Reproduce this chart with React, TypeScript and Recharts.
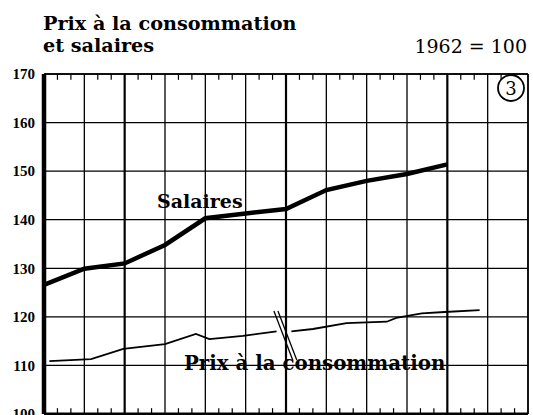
import { LineChart, Line, XAxis, YAxis, CartesianGrid, ReferenceLine } from "recharts"

// months since start of the chart (one grid cell = one quarter)
const quarterTicks = [0, 3, 6, 9, 12, 15, 18, 21, 24, 27, 30, 33, 36]
const yearTicks = [6, 18, 30]
const monthTicks = [1, 2, 4, 5, 7, 8, 10, 11, 13, 14, 16, 17, 19, 20, 22, 23, 25, 26, 28, 29, 31, 32, 34, 35]
const yTicks = [100, 110, 120, 130, 140, 150, 160, 170]

const salMonths = [0, 3, 6, 9, 12, 15, 18, 21, 24, 27, 30]
const salaires = [126.6, 129.9, 131.0, 134.8, 140.3, 141.3, 142.2, 146.1, 148.0, 149.4, 151.4]

const prixMonths = [0.4, 3.5, 5.9, 9, 11.3, 12.3, 14.8, 17.3, 17.8, 18.4, 20, 22.5, 25.5, 26.2, 28.1, 29.8, 32.4]
const prix = [110.9, 111.3, 113.4, 114.4, 116.5, 115.4, 116.1, 117.0, null, 117.0, 117.5, 118.7, 119.0, 119.8, 120.7, 121.0, 121.4]

const salData = salMonths.map((m, i) => ({ m, v: salaires[i] }))
const prixData = prixMonths.map((m, i) => ({ m, v: prix[i] }))

const serif = "'DejaVu Serif', serif"

export default function App() {
  return (
    <div style={{ position: "absolute", left: 0, top: 0, width: 533, height: 415, overflow: "hidden", background: "#fff" }}>
      <LineChart width={533} height={440} margin={{ top: 74, right: 5, bottom: 26, left: 0 }}>
        <CartesianGrid vertical={false} stroke="#000" strokeWidth={1.3} />
        <XAxis type="number" dataKey="m" domain={[0, 36]} ticks={quarterTicks} hide allowDuplicatedCategory={false} />
        <YAxis
          type="number"
          domain={[100, 170]}
          ticks={yTicks}
          width={44}
          axisLine={false}
          tickLine={false}
          tickSize={0}
          tickMargin={9}
          tick={{ fill: "#000", fontSize: 15, fontWeight: "bold", fontFamily: "'Liberation Serif', serif" }}
        />
        {quarterTicks.map((q) => (
          <ReferenceLine key={"q" + q} x={q} stroke="#000" strokeWidth={yearTicks.includes(q) ? 2.2 : 1.3} />
        ))}
        {monthTicks.map((m) => (
          <ReferenceLine key={"t" + m} segment={[{ x: m, y: 170 }, { x: m, y: 168.8 }]} stroke="#000" strokeWidth={1.2} />
        ))}
        {monthTicks.map((m) => (
          <ReferenceLine key={"b" + m} segment={[{ x: m, y: 100 }, { x: m, y: 101.2 }]} stroke="#000" strokeWidth={1.2} />
        ))}
        <ReferenceLine y={170} stroke="#000" strokeWidth={1.5} />
        <ReferenceLine y={100} stroke="#000" strokeWidth={3} />
        <ReferenceLine x={0} stroke="#000" strokeWidth={4.5} />
        <ReferenceLine x={36} stroke="#000" strokeWidth={1.5} />
        <Line data={salData} dataKey="v" type="linear" stroke="#000" strokeWidth={4.5} dot={false} isAnimationActive={false} />
        <Line data={prixData} dataKey="v" type="linear" stroke="#000" strokeWidth={1.8} dot={false} connectNulls={false} isAnimationActive={false} />
        <ReferenceLine segment={[{ x: 17.1, y: 121.2 }, { x: 18.5, y: 111.1 }]} stroke="#000" strokeWidth={1.3} />
        <ReferenceLine segment={[{ x: 17.4, y: 121.2 }, { x: 18.8, y: 111.1 }]} stroke="#000" strokeWidth={1.3} />
      </LineChart>
      <svg width={533} height={415} style={{ position: "absolute", left: 0, top: 0, pointerEvents: "none" }}>
        <text x={43} y={30} fontFamily={serif} fontWeight="bold" fontSize={19.2} fill="#000">Prix à la consommation</text>
        <text x={43} y={52} fontFamily={serif} fontWeight="bold" fontSize={19.2} fill="#000">et salaires</text>
        <text x={527} y={53} textAnchor="end" fontFamily={serif} fontSize={19} fill="#000">1962 = 100</text>
        <text x={157} y={208} fontFamily={serif} fontWeight="bold" fontSize={19} fill="#000">Salaires</text>
        <text x={184} y={370} fontFamily={serif} fontWeight="bold" fontSize={19.8} fill="#000">Prix à la consommation</text>
        <circle cx={511} cy={88} r={13} fill="#fff" stroke="#000" strokeWidth={1.8} />
        <text x={511} y={95} textAnchor="middle" fontFamily={serif} fontSize={18} fill="#000">3</text>
      </svg>
    </div>
  )
}
